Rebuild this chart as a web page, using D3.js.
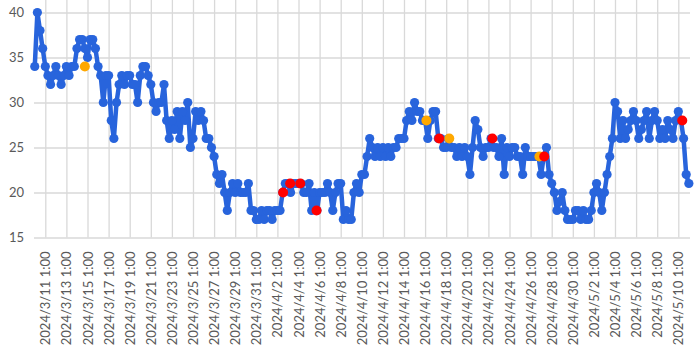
<!DOCTYPE html>
<html>
<head>
<meta charset="utf-8">
<script src="https://cdn.jsdelivr.net/npm/d3@7"></script>
<style>
  body { margin: 0; background: #fff; }
  svg { display: block; }
  .tick text { font-family: Lato, "Liberation Sans", sans-serif; font-size: 13px; fill: #595959; }
  .tick line { stroke: #d9d9d9; stroke-width: 1.3px; }
</style>
</head>
<body>
<svg id="chart" width="700" height="345"></svg>
<script>
// series: one reading every 6 hours, starting 2024/3/10 1:00
const seriesStart = "2024/03/10 01:00";
const stepHours = 6;
const values = [
  34, 40, 38, 36,
  34, 33, 32, 33, 34, 33, 32, 33,
  34, 33, 34, 34, 36, 37, 37, 36,
  35, 37, 37, 36, 34, 33, 30, 33,
  33, 28, 26, 30, 32, 33, 32, 33,
  33, 32, 32, 30, 33, 34, 34, 33,
  32, 30, 29, 30, 30, 32, 28, 26,
  28, 27, 29, 26, 29, 28, 30, 25,
  26, 29, 28, 29, 28, 26, 26, 25,
  24, 22, 21, 22, 20, 18, 20, 21,
  20, 21, 20, 20, 20, 21, 18, 18,
  17, 17, 18, 17, 18, 18, 17, 18,
  18, 18, 20, 21, 21, 20, 21, 21,
  21, 21, 20, 20, 21, 18, 20, 18,
  20, 20, 20, 21, 20, 18, 20, 21,
  21, 17, 18, 17, 17, 20, 21, 20,
  22, 22, 24, 26, 25, 24, 25, 24,
  25, 24, 25, 24, 25, 25, 26, 26,
  26, 28, 29, 28, 30, 29, 29, 28,
  28, 26, 28, 29, 29, 26, 26, 25,
  25, 26, 25, 25, 24, 25, 24, 25,
  24, 22, 25, 28, 27, 25, 24, 25,
  25, 26, 25, 25, 24, 26, 22, 25,
  24, 25, 25, 24, 24, 22, 25, 24,
  24, 24, 24, 24, 22, 24, 25, 22,
  21, 20, 18, 19, 20, 18, 17, 17,
  17, 18, 18, 17, 18, 17, 17, 18,
  20, 21, 20, 18, 20, 22, 24, 26,
  30, 29, 26, 28, 26, 27, 28, 29,
  28, 26, 27, 28, 29, 26, 28, 29,
  28, 26, 27, 26, 28, 27, 26, 28,
  29, 28, 26, 22, 21
];

// highlighted readings
const orangeTimes = ["2024/03/14 19:00", "2024/04/16 04:00", "2024/04/18 08:00", "2024/04/26 21:00"];
const orangeValues = [34, 28, 26, 24];
const redTimes = ["2024/04/02 14:00", "2024/04/03 06:00", "2024/04/04 05:00", "2024/04/05 18:00",
                  "2024/04/17 09:00", "2024/04/22 10:00", "2024/04/27 08:00", "2024/05/10 10:00"];
const redValues = [20, 21, 21, 18, 26, 26, 24, 28];

const tickLabels = [
  "2024/3/11 1:00", "2024/3/13 1:00", "2024/3/15 1:00", "2024/3/17 1:00", "2024/3/19 1:00",
  "2024/3/21 1:00", "2024/3/23 1:00", "2024/3/25 1:00", "2024/3/27 1:00", "2024/3/29 1:00",
  "2024/3/31 1:00", "2024/4/2 1:00", "2024/4/4 1:00", "2024/4/6 1:00", "2024/4/8 1:00",
  "2024/4/10 1:00", "2024/4/12 1:00", "2024/4/14 1:00", "2024/4/16 1:00", "2024/4/18 1:00",
  "2024/4/20 1:00", "2024/4/22 1:00", "2024/4/24 1:00", "2024/4/26 1:00", "2024/4/28 1:00",
  "2024/4/30 1:00", "2024/5/2 1:00", "2024/5/4 1:00", "2024/5/6 1:00", "2024/5/8 1:00",
  "2024/5/10 1:00"
];
const yTicks = [15, 20, 25, 30, 35, 40];
const yMax = 45; // axis top sits above the visible area

const parse = d3.utcParse("%Y/%m/%d %H:%M");
const t0 = parse(seriesStart);
const data = values.map((v, i) => ({ t: d3.utcHour.offset(t0, i * stepHours), v: v }));
const orange = orangeTimes.map((s, i) => ({ t: parse(s), v: orangeValues[i] }));
const red = redTimes.map((s, i) => ({ t: parse(s), v: redValues[i] }));
const tickDates = tickLabels.map(s => parse(s));

const svg = d3.select('#chart');
const left = 34, right = 690;

const x = d3.scaleUtc()
    .domain([tickDates[0], tickDates[tickDates.length - 1]])
    .range([45.3, 678.3]);
const y = d3.scaleLinear()
    .domain([15, yMax])
    .range([237.5, -32.5]);

// horizontal grid + y labels
const gy = svg.append('g')
    .attr('transform', `translate(${left},0)`)
    .call(d3.axisLeft(y).tickValues(yTicks).tickSize(-(right - left)).tickPadding(10));
gy.select('.domain').remove();

// vertical grid + x labels
const gx = svg.append('g')
    .attr('transform', `translate(0,${y(15)})`)
    .call(d3.axisBottom(x)
        .tickValues(tickDates)
        .tickFormat((d, i) => tickLabels[i])
        .tickSize(-(y(15) - y(yMax))));
gx.select('.domain').remove();
gx.selectAll('text')
    .attr('text-anchor', 'end')
    .attr('transform', 'rotate(-90)')
    .attr('x', -14)
    .attr('y', 0)
    .attr('dy', '0.35em');

const line = d3.line().x(d => x(d.t)).y(d => y(d.v));
const blue = "#2864dc";

svg.append('path')
    .datum(data)
    .attr('fill', 'none')
    .attr('stroke', blue)
    .attr('stroke-width', 4.5)
    .attr('stroke-linejoin', 'round')
    .attr('d', line);

svg.append('g').selectAll('circle')
    .data(data)
    .enter()
    .append('circle')
    .attr('cx', d => x(d.t))
    .attr('cy', d => y(d.v))
    .attr('r', 4.6)
    .attr('fill', blue);

svg.append('g').selectAll('circle')
    .data(orange)
    .enter()
    .append('circle')
    .attr('cx', d => x(d.t))
    .attr('cy', d => y(d.v))
    .attr('r', 5)
    .attr('fill', '#ffa800');

svg.append('g').selectAll('circle')
    .data(red)
    .enter()
    .append('circle')
    .attr('cx', d => x(d.t))
    .attr('cy', d => y(d.v))
    .attr('r', 5)
    .attr('fill', '#ff0000');
</script>
</body>
</html>
